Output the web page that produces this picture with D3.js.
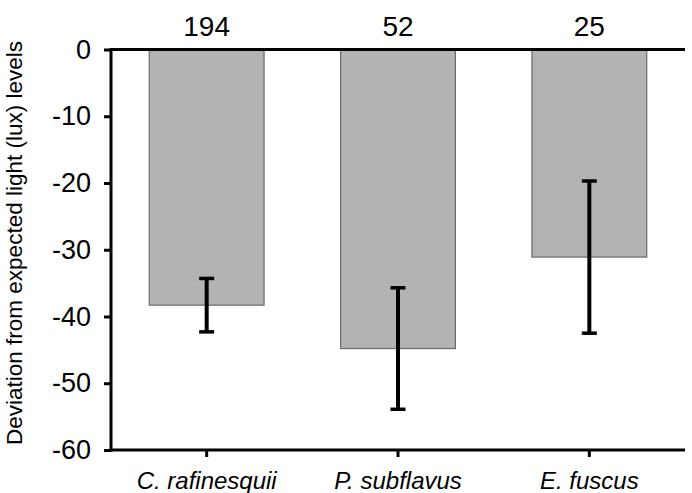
<!DOCTYPE html>
<html>
<head>
<meta charset="utf-8">
<script src="https://cdn.jsdelivr.net/npm/d3@7"></script>
<style>
  html, body { margin: 0; padding: 0; background: #fff; }
  svg { display: block; font-family: Arial, "Liberation Sans", Helvetica, sans-serif; }
</style>
</head>
<body>
<svg id="chart" width="692" height="493"></svg>
<script>
// Species, mean deviation, error half-width and sample sizes
const species = ["C. rafinesquii", "P. subflavus", "E. fuscus"];
const meanDeviation = [-38.3, -44.8, -31.1];
const errorHalf = [4.0, 9.1, 11.4];
const sampleSize = ["194", "52", "25"];
const yTicks = [0, -10, -20, -30, -40, -50, -60];

const svg = d3.select("#chart");
const plotLeft = 111, plotRight = 685, plotTop = 49.5, plotBottom = 450;

const x = d3.scaleBand().domain(species).range([plotLeft, plotRight])
  .paddingInner(0.4).paddingOuter(0.2);
const y = d3.scaleLinear().domain([-60, 0]).range([plotBottom, plotTop]);

const rows = species.map((s, i) => ({ s, v: meanDeviation[i], e: errorHalf[i], n: sampleSize[i] }));

// Bars hang down from zero
svg.append("g").selectAll("rect").data(rows).join("rect")
  .attr("x", d => x(d.s))
  .attr("width", x.bandwidth())
  .attr("y", y(0))
  .attr("height", d => y(d.v) - y(0))
  .attr("fill", "#b3b3b3")
  .attr("stroke", "#6a6a6a")
  .attr("stroke-width", 1.2);

// Error bars
const eb = svg.append("g").attr("stroke", "#000").attr("stroke-width", 4);
rows.forEach(d => {
  const cx = x(d.s) + x.bandwidth() / 2;
  eb.append("line").attr("x1", cx).attr("x2", cx)
    .attr("y1", y(d.v + d.e)).attr("y2", y(d.v - d.e));
  [d.v + d.e, d.v - d.e].forEach(val => {
    eb.append("line").attr("x1", cx - 7.5).attr("x2", cx + 7.5)
      .attr("y1", y(val)).attr("y2", y(val)).attr("stroke-width", 3.5);
  });
});

// Y axis (plain hyphen for negatives)
const yAxis = svg.append("g").attr("transform", `translate(${plotLeft},0)`)
  .call(d3.axisLeft(y).tickValues(yTicks).tickSize(7).tickPadding(13).tickFormat(d => String(d)));
yAxis.select(".domain").remove();
yAxis.selectAll(".tick line").attr("stroke", "#000").attr("stroke-width", 3);
yAxis.selectAll(".tick text").attr("font-size", 27).attr("fill", "#000")
  .attr("font-family", "Arial, 'Liberation Sans', sans-serif");
svg.append("line").attr("x1", plotLeft).attr("x2", plotLeft)
  .attr("y1", plotTop - 1.5).attr("y2", plotBottom + 1.5)
  .attr("stroke", "#000").attr("stroke-width", 3);

// Zero line across the top
svg.append("line").attr("x1", plotLeft).attr("x2", plotRight)
  .attr("y1", y(0)).attr("y2", y(0)).attr("stroke", "#000").attr("stroke-width", 3);

// Bottom axis with species names
const xAxis = svg.append("g").attr("transform", `translate(0,${plotBottom})`)
  .call(d3.axisBottom(x).tickSize(7).tickPadding(12));
xAxis.select(".domain").attr("stroke", "#000").attr("stroke-width", 3)
  .attr("d", `M${plotLeft},0H${plotRight}`);
xAxis.selectAll(".tick line").attr("stroke", "#000").attr("stroke-width", 3);
xAxis.selectAll(".tick text").attr("font-size", 24).attr("font-style", "italic")
  .attr("fill", "#000").attr("font-family", "Arial, 'Liberation Sans', sans-serif")
  .attr("dy", "0.84em");

// Sample sizes above the bars
svg.append("g").selectAll("text").data(rows).join("text")
  .attr("x", d => x(d.s) + x.bandwidth() / 2)
  .attr("y", 36)
  .attr("text-anchor", "middle")
  .attr("font-size", 28)
  .text(d => d.n);

// Y axis title
svg.append("text")
  .attr("transform", "translate(22,243) rotate(-90)")
  .attr("text-anchor", "middle")
  .attr("font-size", 22.5)
  .text("Deviation from expected light (lux) levels");
</script>
</body>
</html>
